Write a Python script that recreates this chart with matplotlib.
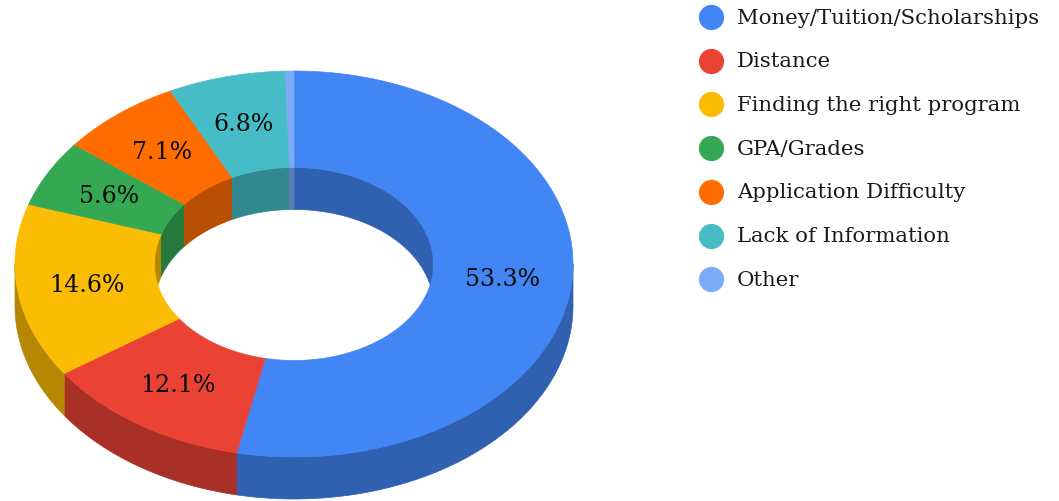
import numpy as np
import matplotlib.pyplot as plt
from matplotlib.patches import Polygon
from matplotlib.colors import to_rgb

# data
categories = [
    "Money/Tuition/Scholarships",
    "Distance",
    "Finding the right program",
    "GPA/Grades",
    "Application Difficulty",
    "Lack of Information",
    "Other",
]
values = [53.3, 12.1, 14.6, 5.6, 7.1, 6.8, 0.5]
pct_labels = ["53.3%", "12.1%", "14.6%", "5.6%", "7.1%", "6.8%", ""]
colors = ["#4285F4", "#EA4335", "#FBBC04", "#34A853", "#FF6D01", "#46BDC6", "#7BAAF7"]

# geometry (pixels)
CX, CY = 294, 265
RX, RY = 279, 193
HOLE = 0.5
DEPTH = 42
SHADE = 0.72
FONT = "DejaVu Serif"


def pt(t, r):
    # t: degrees clockwise from 12 o'clock, r: fraction of outer radius
    t = np.radians(t)
    return CX + r * RX * np.sin(t), CY - r * RY * np.cos(t)


def dark(c):
    return tuple(v * SHADE for v in to_rgb(c))


def wall(a, b, r, ax, color):
    t = np.linspace(a, b, 80)
    x, y = pt(t, r)
    xs = np.concatenate([x, x[::-1]])
    ys = np.concatenate([y, y[::-1] + DEPTH])
    ax.add_patch(Polygon(np.column_stack([xs, ys]), closed=True, fc=color,
                         ec=color, lw=0.5, zorder=1))


fig = plt.figure(figsize=(10.59, 5.02), dpi=100)
ax = fig.add_axes([0, 0, 1, 1])
ax.set_xlim(0, 1059)
ax.set_ylim(502, 0)
ax.axis("off")

edges = np.concatenate([[0], np.cumsum(values)]) / np.sum(values) * 360

for i, c in enumerate(colors):
    a, b = edges[i], edges[i + 1]
    # outer side, front half
    lo, hi = max(a, 90), min(b, 270)
    if lo < hi:
        wall(lo, hi, 1.0, ax, dark(c))
    # inner wall, back half
    for p, q in [(0, 90), (270, 360)]:
        lo, hi = max(a, p), min(b, q)
        if lo < hi:
            wall(lo, hi, HOLE, ax, dark(c))

for i, c in enumerate(colors):
    a, b = edges[i], edges[i + 1]
    t = np.linspace(a, b, 200)
    xo, yo = pt(t, 1.0)
    xi, yi = pt(t[::-1], HOLE)
    poly = np.column_stack([np.concatenate([xo, xi]), np.concatenate([yo, yi])])
    ax.add_patch(Polygon(poly, closed=True, fc=c, ec=c, lw=0.5, zorder=2))
    if pct_labels[i]:
        lx, ly = pt((a + b) / 2, (1 + HOLE) / 2)
        ax.text(lx, ly, pct_labels[i], ha="center", va="center", fontsize=17,
                family=FONT, color="#0a0a0a", zorder=3)

# legend
for i, (name, c) in enumerate(zip(categories, colors)):
    y = 18 + 43.7 * i
    ax.scatter([711], [y], s=330, color=c, lw=0, zorder=3)
    ax.text(737, y, name, ha="left", va="center", fontsize=15.3, family=FONT,
            color="#1a1a1a")

fig.savefig("out.png", dpi=100)
